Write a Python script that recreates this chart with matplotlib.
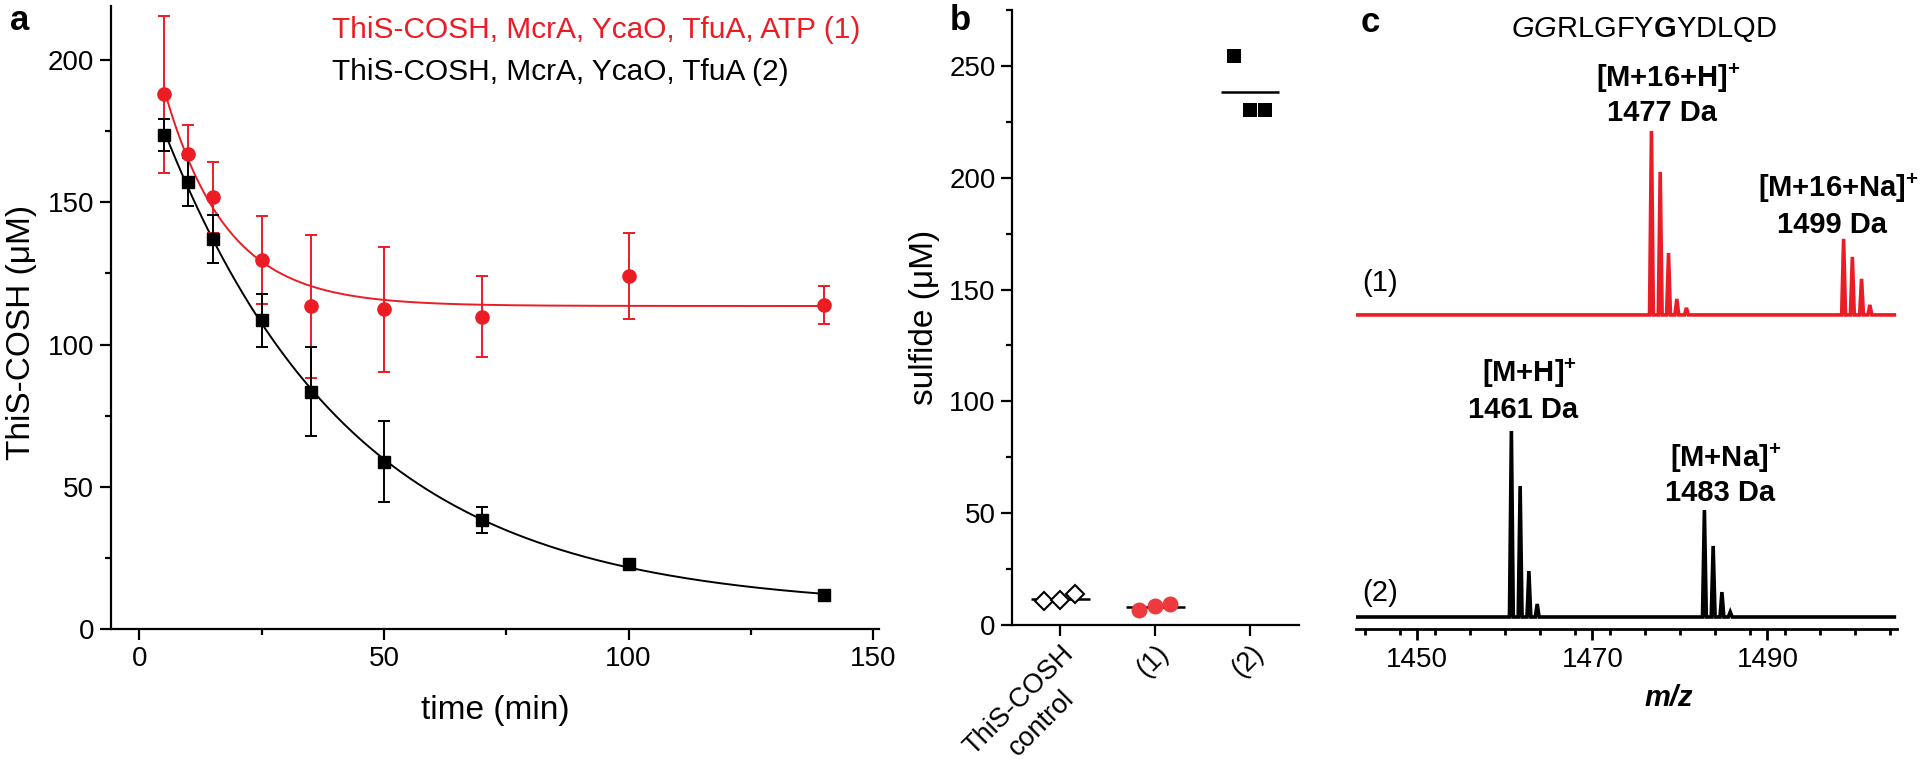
import numpy as np
import matplotlib
matplotlib.use("Agg")
import matplotlib.pyplot as plt
from matplotlib.ticker import MultipleLocator

plt.rcParams['font.family'] = ['Liberation Sans', 'DejaVu Sans']
plt.rcParams['mathtext.fontset'] = 'custom'
plt.rcParams['mathtext.rm'] = 'Liberation Sans'
plt.rcParams['mathtext.it'] = 'Liberation Sans:italic'
plt.rcParams['mathtext.bf'] = 'Liberation Sans:bold'

RED = '#EC1C24'

# ---------------- Panel a data ----------------
time_min = [5, 10, 15, 25, 35, 50, 70, 100, 140]
atp_conc = [187.9, 166.9, 151.7, 129.7, 113.5, 112.4, 109.8, 124.1, 113.8]
atp_err = [27.7, 10.3, 12.4, 15.6, 25.1, 22.0, 14.3, 15.2, 6.6]
noatp_conc = [173.6, 157.2, 137.1, 108.5, 83.4, 58.8, 38.3, 22.8, 12.0]
noatp_err = [5.6, 8.5, 8.6, 9.2, 15.7, 14.2, 4.7, 1.2, 1.0]
legend_labels = ['ThiS-COSH, McrA, YcaO, TfuA, ATP (1)',
                 'ThiS-COSH, McrA, YcaO, TfuA (2)']

# ---------------- Panel b data ----------------
b_categories = ['ThiS-COSH\ncontrol', '(1)', '(2)']
sulfide_control = [10.6, 11.0, 13.9]
sulfide_1 = [6.6, 8.4, 9.2]
sulfide_2 = [254.6, 230.4, 230.4]

# ---------------- Panel c data ----------------
peptide_label = r'$\mathit{GG}\mathrm{RLGFY}\mathbf{G}\mathrm{YDLQD}$'
mz_1 = [1476.75, 1477.75, 1478.7, 1479.65, 1480.75,
        1498.7, 1499.7, 1500.75, 1501.7]
int_1 = [98.9, 76.9, 33.3, 8.6, 3.8, 40.9, 31.2, 19.4, 5.4]
mz_2 = [1460.75, 1461.75, 1462.75, 1463.7,
        1482.8, 1483.8, 1484.8, 1485.75]
int_2 = [100.0, 70.4, 24.7, 7.0, 57.5, 38.2, 13.4, 2.7]
c_ticks = [1450, 1470, 1490]

W, H = 1920, 772
fig = plt.figure(figsize=(W / 100, H / 100), dpi=100)


def rect(left, top, right, bottom):
    return [left / W, 1 - bottom / H, (right - left) / W, (bottom - top) / H]


def fx(x):
    return x / W


def fy(y):
    return 1 - y / H


TICK_FS = 20
SPINE_W = 1.6


def style_axes(ax):
    for s in ['top', 'right']:
        ax.spines[s].set_visible(False)
    for s in ['left', 'bottom']:
        ax.spines[s].set_linewidth(SPINE_W)
    ax.tick_params(which='major', direction='out', length=8, width=SPINE_W,
                   labelsize=TICK_FS, pad=4)
    ax.tick_params(which='minor', direction='out', length=4.5, width=SPINE_W)


# ================= Panel a =================
axa = fig.add_axes(rect(110.7, 6, 879, 629))
style_axes(axa)


def exp_fit(t, y):
    t = np.asarray(t, float)
    y = np.asarray(y, float)
    best = None
    for k in np.linspace(0.002, 0.4, 4000):
        A = np.column_stack([np.ones_like(t), np.exp(-k * t)])
        coef, *_ = np.linalg.lstsq(A, y, rcond=None)
        sse = np.sum((A @ coef - y) ** 2)
        if best is None or sse < best[0]:
            best = (sse, k, coef)
    return best[1], best[2]


tt = np.linspace(min(time_min), max(time_min), 400)
for conc, err, col, mk, ms in [(atp_conc, atp_err, RED, 'o', 9.5),
                               (noatp_conc, noatp_err, 'black', 's', 8)]:
    k, (c0, c1) = exp_fit(time_min, conc)
    axa.plot(tt, c0 + c1 * np.exp(-k * tt), color=col, lw=1.4, zorder=2)
    axa.errorbar(time_min, conc, yerr=err, fmt=mk, color=col, ms=ms,
                 elinewidth=1.4, capsize=4.5, capthick=1.4, zorder=3)

axa.set_xlim(-5.85, 151.2)
axa.set_ylim(0, 219)
axa.xaxis.set_major_locator(MultipleLocator(50))
axa.xaxis.set_minor_locator(MultipleLocator(25))
axa.yaxis.set_major_locator(MultipleLocator(50))
axa.yaxis.set_minor_locator(MultipleLocator(25))
axa.set_xlabel('time (min)', fontsize=24)
axa.xaxis.set_label_coords(0.5, (629 - 711) / 623)
axa.xaxis.label.set_va('center')
axa.set_ylabel('ThiS-COSH (μM)', fontsize=24)
axa.yaxis.set_label_coords((22 - 110.7) / 768.3, (629 - 332) / 623)
axa.yaxis.label.set_va('center')

fig.text(fx(332), fy(30), legend_labels[0], color=RED, fontsize=21.5,
         ha='left', va='center')
fig.text(fx(332), fy(72), legend_labels[1], color='black', fontsize=21.5,
         ha='left', va='center')
fig.text(fx(20), fy(20), 'a', fontsize=25, fontweight='bold',
         ha='center', va='center')

# ================= Panel b =================
axb = fig.add_axes(rect(1012.3, 10, 1299, 625))
style_axes(axb)
jitter = [-0.17, 0.0, 0.16]
groups = [sulfide_control, sulfide_1, sulfide_2]
styles = [dict(marker='D', mfc='white', mec='black', mew=1.5, ms=9.5),
          dict(marker='o', mfc='#EE3A3F', mec='#EE3A3F', mew=0, ms=11.5),
          dict(marker='s', mfc='black', mec='black', mew=0, ms=10)]
for i, (vals, st) in enumerate(zip(groups, styles)):
    xs = [i + j for j in jitter]
    axb.hlines(np.mean(vals), i - 0.31, i + 0.31, color='black', lw=1.8,
               zorder=2)
    axb.plot(xs, vals, ls='none', zorder=3, **st)
axb.set_xlim(-0.505, 2.516)
axb.set_ylim(0, 275)
axb.yaxis.set_major_locator(MultipleLocator(50))
axb.yaxis.set_minor_locator(MultipleLocator(25))

# category labels: first line as tick label, second line placed beneath it
B_FS = 19.5
first_lines = [c.split('\n')[0] for c in b_categories]
axb.set_xticks(range(len(b_categories)))
axb.set_xticklabels(first_lines, rotation=45, ha='right', va='top',
                    rotation_mode='anchor')
axb.tick_params(axis='x', pad=3, labelsize=B_FS)
for i, c in enumerate(b_categories):
    parts = c.split('\n')
    if len(parts) > 1:
        # width of first line in points (Arial metrics, approx)
        L1 = 5.278 * B_FS
        step = 1.2 * B_FS
        ang = np.deg2rad(45)
        dx = -L1 / 2 * np.cos(ang) + step * np.sin(ang)
        dy = -11 - L1 / 2 * np.sin(ang) - step * np.cos(ang)
        axb.annotate(parts[1], xy=(i, 0), xycoords=('data', 'axes fraction'),
                     xytext=(dx, dy), textcoords='offset points',
                     rotation=45, rotation_mode='anchor', ha='center',
                     va='top', fontsize=B_FS, annotation_clip=False)

axb.set_ylabel('sulfide (μM)', fontsize=24)
axb.yaxis.set_label_coords((925 - 1012.3) / 286.7, 0.5)
axb.yaxis.label.set_va('center')
fig.text(fx(960), fy(20), 'b', fontsize=25, fontweight='bold',
         ha='center', va='center')

# ================= Panel c =================
axc = fig.add_axes(rect(1356, 40, 1897, 629))
for s in ['top', 'right', 'left']:
    axc.spines[s].set_visible(False)
axc.spines['bottom'].set_linewidth(2.0)
axc.tick_params(axis='y', left=False, labelleft=False)
axc.tick_params(axis='x', which='major', direction='out', length=8, width=2.0,
                labelsize=TICK_FS, pad=5)
axc.tick_params(axis='x', which='minor', direction='out', length=4, width=2.0)
xlo, xhi = 1443, 1504.8
axc.set_xlim(xlo, xhi)
axc.set_ylim(-6.45, 310.2)
axc.set_xticks(c_ticks)
axc.xaxis.set_minor_locator(MultipleLocator(4))


def spectrum(mz, inten, lo, hi, hw=0.22):
    xs, ys = [lo], [0.0]
    for m, h in sorted(zip(mz, inten)):
        xs += [m - hw, m, m + hw]
        ys += [0.0, h, 0.0]
    xs.append(hi)
    ys.append(0.0)
    return np.array(xs), np.array(ys)


offset_1 = 162.4
x1, y1 = spectrum(mz_1, int_1, xlo, xhi - 0.3)
x2, y2 = spectrum(mz_2, int_2, xlo, xhi - 0.3)
axc.plot(x1, y1 + offset_1, color=RED, lw=2.6, solid_joinstyle='miter')
axc.fill(x1, y1 + offset_1, color=RED, lw=0)
axc.plot(x2, y2, color='black', lw=2.6, solid_joinstyle='miter')
axc.fill(x2, y2, color='black', lw=0)
axc.set_xlabel('m/z', fontsize=21, fontweight='bold', style='italic')
axc.xaxis.set_label_coords((1669 - 1356) / 541, (629 - 698) / 589)
axc.xaxis.label.set_va('center')

fig.text(fx(1370), fy(23), 'c', fontsize=25, fontweight='bold',
         ha='center', va='center')
fig.text(fx(1644), fy(30), peptide_label, fontsize=21, ha='center',
         va='center')
ann_kw = dict(fontsize=21, fontweight='bold', ha='center', va='center')
fig.text(fx(1668), fy(78), r'[M+16+H]$^{\mathbf{+}}$', **ann_kw)
fig.text(fx(1662), fy(113), '1477 Da', **ann_kw)
fig.text(fx(1838), fy(188), r'[M+16+Na]$^{\mathbf{+}}$', **ann_kw)
fig.text(fx(1832), fy(225), '1499 Da', **ann_kw)
fig.text(fx(1530), fy(373), r'[M+H]$^{\mathbf{+}}$', **ann_kw)
fig.text(fx(1523), fy(410), '1461 Da', **ann_kw)
fig.text(fx(1726), fy(458), r'[M+Na]$^{\mathbf{+}}$', **ann_kw)
fig.text(fx(1720), fy(493), '1483 Da', **ann_kw)
fig.text(fx(1380), fy(283), '(1)', fontsize=21, ha='center', va='center')
fig.text(fx(1380), fy(593), '(2)', fontsize=21, ha='center', va='center')

fig.savefig('out.png', dpi=100)
